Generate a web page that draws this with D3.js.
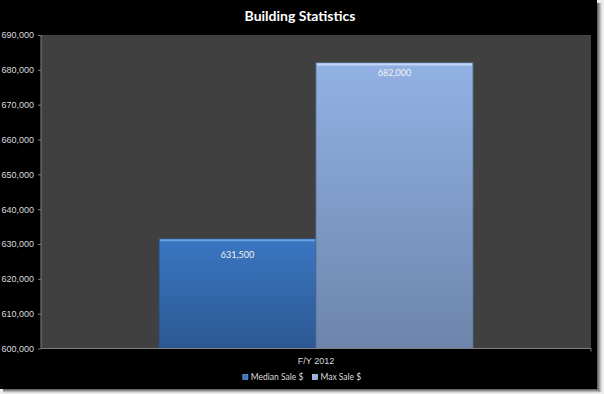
<!DOCTYPE html>
<html>
<head>
<meta charset="utf-8">
<script src="https://cdn.jsdelivr.net/npm/d3@7"></script>
<style>
  body { margin: 0; background: #ececec; }
  svg { display: block; font-family: Lato, "Open Sans", sans-serif; }
</style>
</head>
<body>
<script>
// 数据
var categories = ['F/Y 2012'];
var seriesNames = ['Median Sale $', 'Max Sale $'];
var seriesValues = [631500, 682000];
var yTicks = [600000, 610000, 620000, 630000, 640000, 650000, 660000, 670000, 680000, 690000];

var width = 604;
var height = 394;

var svg = d3.select('body')
  .append('svg')
  .attr('width', width)
  .attr('height', height);

var defs = svg.append('defs');

var shadow = defs.append('linearGradient').attr('id', 'shR').attr('x1', 0).attr('x2', 1).attr('y1', 0).attr('y2', 0);
shadow.append('stop').attr('offset', '0%').attr('stop-color', '#555');
shadow.append('stop').attr('offset', '100%').attr('stop-color', '#ececec');
var shadowB = defs.append('linearGradient').attr('id', 'shB').attr('x1', 0).attr('x2', 0).attr('y1', 0).attr('y2', 1);
shadowB.append('stop').attr('offset', '0%').attr('stop-color', '#555');
shadowB.append('stop').attr('offset', '100%').attr('stop-color', '#ececec');

var barColors = [
  { top: '#3b76c2', bottom: '#2c5993', edge: '#6aa0e0', labelOffset: 19 },
  { top: '#92b1e4', bottom: '#6d85ac', edge: '#c4d8f6', labelOffset: 13 }
];
barColors.forEach(function (c, i) {
  var g = defs.append('linearGradient').attr('id', 'bar' + i)
    .attr('x1', 0).attr('x2', 0).attr('y1', 0).attr('y2', 1);
  g.append('stop').attr('offset', '0%').attr('stop-color', c.top);
  g.append('stop').attr('offset', '100%').attr('stop-color', c.bottom);
});

// 背景和阴影
svg.append('rect').attr('x', 597).attr('y', 3).attr('width', 5).attr('height', 389).attr('fill', 'url(#shR)');
svg.append('rect').attr('x', 3).attr('y', 389).attr('width', 596).attr('height', 4).attr('fill', 'url(#shB)');
svg.append('rect').attr('x', 0).attr('y', 0).attr('width', 597).attr('height', 389).attr('fill', '#000');

var padding = { top: 35, right: 13, bottom: 45, left: 41 };
var plotW = width - padding.left - padding.right;
var plotH = 348.5 - padding.top;

var plot = svg.append('g')
  .attr('transform', 'translate(' + padding.left + ',' + padding.top + ')');

plot.append('rect')
  .attr('width', plotW)
  .attr('height', plotH)
  .attr('fill', '#404040');

var yScale = d3.scaleLinear()
  .domain([600000, 690000])
  .range([plotH, 0]);

var xScale = d3.scaleBand()
  .domain(categories)
  .range([0, plotW])
  .paddingInner(0)
  .paddingOuter(0.376);

var xSub = d3.scaleBand()
  .domain(seriesNames)
  .range([0, xScale.bandwidth()]);

var fmt = d3.format(',');

var bars = plot.selectAll('.bar')
  .data(seriesNames.map(function (n, i) { return { name: n, value: seriesValues[i], i: i }; }))
  .enter()
  .append('g')
  .attr('class', 'bar')
  .attr('transform', function (d) {
    return 'translate(' + (xScale(categories[0]) + xSub(d.name)) + ',0)';
  });

bars.append('rect')
  .attr('y', function (d) { return yScale(d.value); })
  .attr('width', xSub.bandwidth())
  .attr('height', function (d) { return plotH - yScale(d.value); })
  .attr('fill', function (d) { return 'url(#bar' + d.i + ')'; })
  .attr('stroke', function (d) { return d3.color(barColors[d.i].bottom).darker(0.4); })
  .attr('stroke-width', 0.8);

bars.append('rect')
  .attr('x', 1)
  .attr('y', function (d) { return yScale(d.value) + 0.5; })
  .attr('width', xSub.bandwidth() - 2)
  .attr('height', 2)
  .attr('fill', function (d) { return barColors[d.i].edge; });

bars.append('text')
  .attr('x', xSub.bandwidth() / 2)
  .attr('y', function (d) { return yScale(d.value) + barColors[d.i].labelOffset; })
  .attr('text-anchor', 'middle')
  .attr('fill', '#f2f2f2')
  .attr('font-size', '9px')
  .text(function (d) { return fmt(d.value); });

// 坐标轴
var yAxis = d3.axisLeft(yScale)
  .tickValues(yTicks)
  .tickFormat(fmt)
  .tickSize(3)
  .tickPadding(4);

var yg = plot.append('g').attr('class', 'yaxis').call(yAxis);
yg.selectAll('path, line').attr('stroke', '#7f7f7f');
yg.select('.domain').attr('d', 'M0,0V' + plotH);
yg.selectAll('text').attr('fill', '#dcdcdc').attr('font-size', '9px');

var xAxis = d3.axisBottom(xScale).tickSize(0).tickPadding(9);
var xg = plot.append('g').attr('class', 'xaxis')
  .attr('transform', 'translate(0,' + plotH + ')')
  .call(xAxis);
xg.select('.domain').attr('stroke', '#7f7f7f').attr('d', 'M0,0H' + plotW + 'V3');
xg.selectAll('text').attr('fill', '#dcdcdc').attr('font-size', '9px');

// 标题
svg.append('text')
  .attr('x', 300)
  .attr('y', 21)
  .attr('text-anchor', 'middle')
  .attr('fill', '#fff')
  .attr('font-weight', 'bold')
  .attr('font-size', '14px')
  .text('Building Statistics');

// 图例
var legend = svg.append('g').attr('transform', 'translate(0,374.5)');
var lx = 0;
seriesNames.forEach(function (name, i) {
  var item = legend.append('g').attr('transform', 'translate(' + lx + ',0)');
  item.append('rect')
    .attr('width', 5)
    .attr('height', 5)
    .attr('fill', barColors[i].top)
    .attr('stroke', barColors[i].edge)
    .attr('stroke-width', 0.7);
  var t = item.append('text')
    .attr('x', 8)
    .attr('y', 5.5)
    .attr('fill', '#dcdcdc')
    .attr('font-size', '8.5px')
    .text(name);
  lx += 8 + t.node().getComputedTextLength() + 9;
});
var legendW = lx - 9;
legend.attr('transform', 'translate(' + (302 - legendW / 2) + ',374.5)');
</script>
</body>
</html>
